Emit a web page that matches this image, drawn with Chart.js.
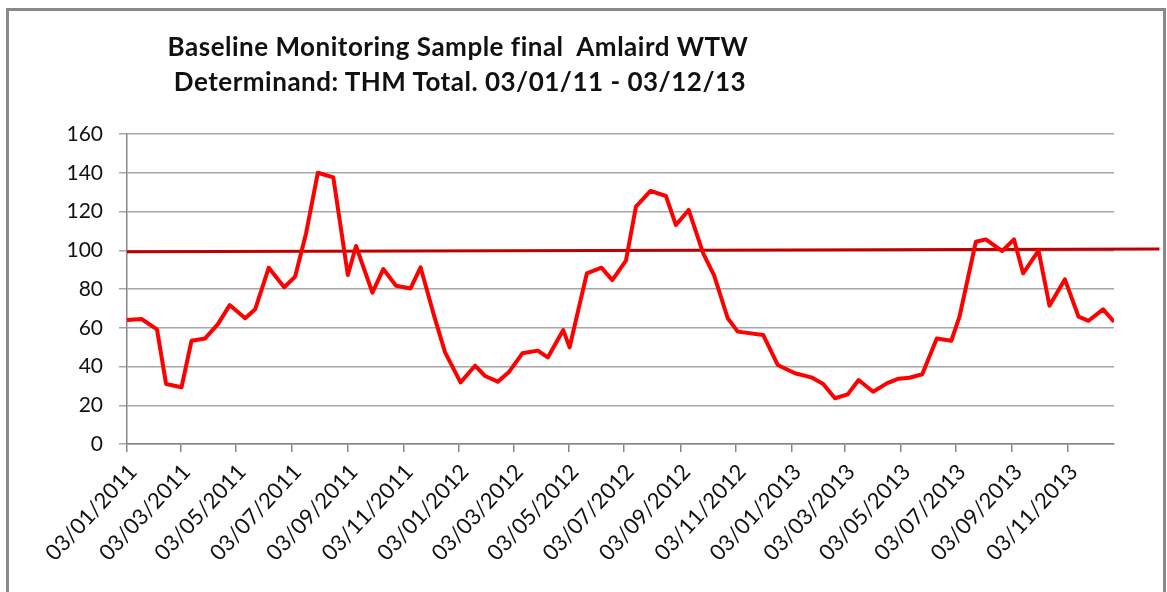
<!DOCTYPE html>
<html>
<head>
<meta charset="utf-8">
<script src="https://cdn.jsdelivr.net/npm/chart.js@4.4.0/dist/chart.umd.min.js"></script>
<style>
  html, body { margin: 0; padding: 0; background: #fff; }
  #wrap { position: relative; width: 1167px; height: 592px; overflow: hidden; }
  #frame { position: absolute; left: 6px; top: 8px; width: 1160px; height: 700px;
           border: 3px solid #898989; box-sizing: border-box; }
  canvas { position: absolute; left: 0; top: 0; }
  .title { position: absolute; left: 58px; width: 800px; text-align: center;
           font-family: Lato, sans-serif; font-weight: bold; font-size: 26px; letter-spacing: 0.5px;
           color: #111; white-space: pre; }
</style>
</head>
<body>
<div id="wrap">
  <div id="frame"></div>
  <canvas id="graph" width="1167" height="592"></canvas>
  <div class="title" style="top:30px">Baseline Monitoring Sample final  Amlaird WTW</div>
  <div class="title" style="top:65px; left:60px">Determinand: THM Total. 03/01/11 - 03/12/13</div>
</div>
<script>
// sample dates (dd/mm/yyyy) and THM total values
var sampleDates = [
  "03/01/2011", "19/01/2011", "05/02/2011", "15/02/2011", "04/03/2011", "15/03/2011", "30/03/2011",
  "13/04/2011", "26/04/2011", "13/05/2011", "24/05/2011", "08/06/2011", "25/06/2011", "07/07/2011",
  "19/07/2011", "01/08/2011", "18/08/2011", "03/09/2011", "12/09/2011", "30/09/2011", "12/10/2011",
  "26/10/2011", "11/11/2011", "22/11/2011", "07/12/2011", "19/12/2011", "05/01/2012", "21/01/2012",
  "01/02/2012", "15/02/2012", "27/02/2012", "13/03/2012", "30/03/2012", "10/04/2012", "27/04/2012",
  "04/05/2012", "23/05/2012", "08/06/2012", "20/06/2012", "05/07/2012", "16/07/2012", "01/08/2012",
  "18/08/2012", "29/08/2012", "12/09/2012", "28/09/2012", "10/10/2012", "25/10/2012", "05/11/2012",
  "03/12/2012", "19/12/2012", "07/01/2013", "25/01/2013", "07/02/2013", "20/02/2013", "06/03/2013",
  "18/03/2013", "03/04/2013", "18/04/2013", "01/05/2013", "13/05/2013", "27/05/2013", "12/06/2013",
  "28/06/2013", "07/07/2013", "25/07/2013", "05/08/2013", "23/08/2013", "05/09/2013", "15/09/2013",
  "02/10/2013", "14/10/2013", "31/10/2013", "15/11/2013", "26/11/2013", "12/12/2013", "24/12/2013"
];
var thmValues = [
  64.0, 64.5, 59.2, 31.0, 29.3, 53.3, 54.5,
  61.9, 71.7, 64.9, 69.5, 91.0, 80.9, 86.4,
  108.7, 140.0, 137.6, 87.2, 102.2, 78.1, 90.3,
  81.7, 80.3, 91.2, 66.0, 47.3, 31.8, 40.4,
  35.1, 32.2, 37.0, 46.8, 48.2, 44.7, 58.8,
  49.9, 88.1, 91.0, 84.6, 94.6, 122.5, 130.6,
  128.0, 113.0, 120.8, 98.4, 87.0, 64.9, 58.0,
  56.3, 40.8, 36.5, 34.4, 31.0, 23.6, 25.6,
  33.0, 27.0, 31.3, 33.7, 34.2, 36.0, 54.5,
  53.3, 65.7, 104.4, 105.6, 99.6, 105.6, 88.1,
  99.8, 71.4, 85.0, 65.7, 63.6, 69.5, 63.1
];
// the dark red limit line (slightly sloped in the original)
var limitDates = ["03/01/2011", "12/02/2014"];
var limitValues = [99.2, 100.7];

var tickLabels = [
  "03/01/2011", "03/03/2011", "03/05/2011", "03/07/2011", "03/09/2011", "03/11/2011",
  "03/01/2012", "03/03/2012", "03/05/2012", "03/07/2012", "03/09/2012", "03/11/2012",
  "03/01/2013", "03/03/2013", "03/05/2013", "03/07/2013", "03/09/2013", "03/11/2013"
];

function dayOf(s) {
  var p = s.split("/").map(Number);
  return (Date.UTC(p[2], p[1] - 1, p[0]) - Date.UTC(2011, 0, 3)) / 86400000;
}

var tickDays = tickLabels.map(dayOf);
var thmPoints = sampleDates.map(function(d, i) { return { x: dayOf(d), y: thmValues[i] }; });
var limitPoints = limitDates.map(function(d, i) { return { x: dayOf(d), y: limitValues[i] }; });

var axisGrey = "#868686";

new Chart(document.getElementById("graph").getContext("2d"), {
  type: "line",
  data: {
    datasets: [{
      label: "THM Total",
      data: thmPoints,
      borderColor: "#ff0000",
      borderWidth: 4,
      pointRadius: 0,
      borderJoinStyle: "round",
      tension: 0
    }, {
      label: "Limit",
      data: limitPoints,
      borderColor: "#c00000",
      borderWidth: 3,
      pointRadius: 0,
      clip: false
    }]
  },
  options: {
    responsive: false,
    animation: false,
    devicePixelRatio: 1,
    layout: { padding: { left: 0, top: 134, right: 53, bottom: 0 } },
    plugins: {
      legend: { display: false },
      tooltip: { enabled: false }
    },
    scales: {
      x: {
        type: "linear",
        min: dayOf(sampleDates[0]),
        max: dayOf(sampleDates[sampleDates.length - 1]),
        afterBuildTicks: function(axis) {
          axis.ticks = tickDays.map(function(v) { return { value: v }; });
        },
        afterFit: function(axis) { axis.height = 148; },
        ticks: {
          autoSkip: false,
          minRotation: 47,
          maxRotation: 47,
          padding: 7,
          labelOffset: 6,
          color: "#111",
          font: { family: "Lato, sans-serif", size: 22 },
          callback: function(value) { return tickLabels[tickDays.indexOf(value)]; }
        },
        grid: { drawOnChartArea: false, color: axisGrey, lineWidth: 1.5, tickLength: 8 },
        border: { color: axisGrey, width: 1.5 }
      },
      y: {
        min: 0,
        max: 160,
        afterFit: function(axis) { axis.width = 127; },
        ticks: { stepSize: 20, padding: 16, color: "#111", font: { family: "Lato, sans-serif", size: 21 } },
        grid: { color: "#a6a6a6", lineWidth: 1.5, tickLength: 8 },
        border: { color: axisGrey, width: 1.5 }
      }
    }
  }
});
</script>
</body>
</html>
